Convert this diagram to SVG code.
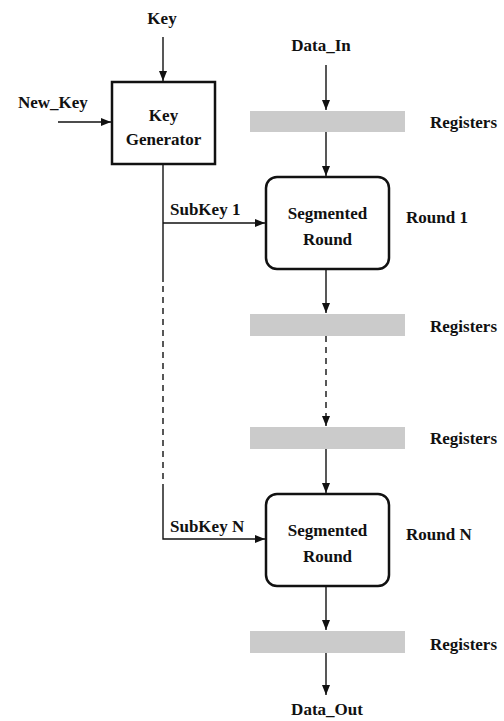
<svg xmlns="http://www.w3.org/2000/svg" width="504" height="721" viewBox="0 0 504 721">
<style>
text{font-family:"Liberation Serif","Times New Roman",serif;font-weight:bold;font-size:17px;fill:#111}
.c{text-anchor:middle}
.box{fill:#fff;stroke:#111;stroke-width:2.5}
.reg{fill:#cbcbcb;stroke:none}
.ln{fill:none;stroke:#111;stroke-width:1.4}
.dash{stroke-dasharray:6,5}
</style>
<defs>
<marker id="ah" viewBox="0 0 10 8" refX="10" refY="4" markerWidth="10" markerHeight="8" markerUnits="userSpaceOnUse" orient="auto">
<path d="M0,0 L10,4 L0,8 Z" fill="#111"/>
</marker>
</defs>
<rect width="504" height="721" fill="#fff"/>
<g id="connectors">
<line class="ln" x1="163" y1="37" x2="163" y2="81" marker-end="url(#ah)"/>
<line class="ln" x1="58" y1="122" x2="111" y2="122" marker-end="url(#ah)"/>
<line class="ln" x1="326" y1="65" x2="326" y2="110" marker-end="url(#ah)"/>
<line class="ln" x1="326" y1="132" x2="326" y2="176" marker-end="url(#ah)"/>
<polyline class="ln" points="163,164 163,223"/>
<line class="ln" x1="163" y1="223" x2="265" y2="223" marker-end="url(#ah)"/>
<line class="ln" x1="163" y1="223" x2="163" y2="282"/>
<line class="ln dash" x1="163" y1="286" x2="163" y2="490"/>
<polyline class="ln" points="163,490 163,539 265,539" marker-end="url(#ah)"/>
<line class="ln" x1="326" y1="270" x2="326" y2="313" marker-end="url(#ah)"/>
<line class="ln dash" x1="326" y1="336" x2="326" y2="426" marker-end="url(#ah)"/>
<line class="ln" x1="326" y1="449" x2="326" y2="493" marker-end="url(#ah)"/>
<line class="ln" x1="326" y1="587" x2="326" y2="630" marker-end="url(#ah)"/>
<line class="ln" x1="326" y1="653" x2="326" y2="695" marker-end="url(#ah)"/>
</g>
<g id="labels">
<text class="c" x="162" y="24">Key</text>
<text x="18" y="108">New_Key</text>
<text class="c" x="321" y="51">Data_In</text>
<text x="170" y="215">SubKey 1</text>
<text x="170" y="532">SubKey N</text>
<text class="c" x="327" y="715">Data_Out</text>
</g>
<g id="keygen">
<rect class="box" x="112" y="82" width="103" height="82"/>
<text class="c" x="163.5" y="121">Key</text>
<text class="c" x="163.5" y="145">Generator</text>
</g>
<g id="reg1">
<rect class="reg" x="250" y="111" width="155" height="21"/>
<text x="430" y="128">Registers</text>
</g>
<g id="round1">
<rect class="box" x="266" y="177" width="123" height="92" rx="11"/>
<text class="c" x="327.5" y="219">Segmented</text>
<text class="c" x="327.5" y="245">Round</text>
<text x="406" y="223">Round 1</text>
</g>
<g id="reg2">
<rect class="reg" x="250" y="314" width="155" height="22"/>
<text x="430" y="332">Registers</text>
</g>
<g id="reg3">
<rect class="reg" x="250" y="427" width="155" height="22"/>
<text x="430" y="444">Registers</text>
</g>
<g id="roundN">
<rect class="box" x="266" y="494" width="123" height="92" rx="11"/>
<text class="c" x="327.5" y="536">Segmented</text>
<text class="c" x="327.5" y="562">Round</text>
<text x="406" y="540">Round N</text>
</g>
<g id="reg4">
<rect class="reg" x="250" y="631" width="155" height="22"/>
<text x="430" y="650">Registers</text>
</g>
</svg>
